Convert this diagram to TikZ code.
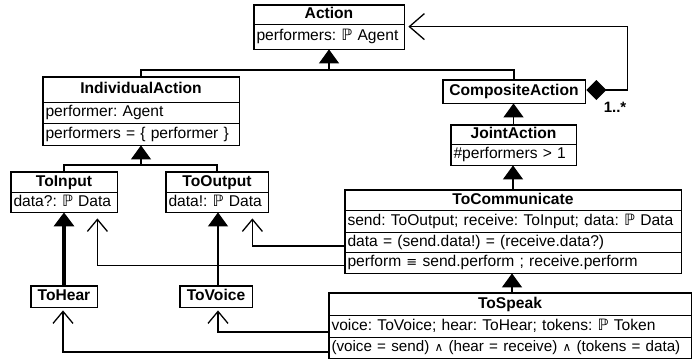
\documentclass[tikz,border=0pt]{standalone}
\usepackage{fontspec}
\setmainfont{Liberation Sans}
\newfontfamily\symf{DejaVu Sans}
\usetikzlibrary{arrows.meta,calc}
\newcommand{\PP}{{\symf ℙ}}
\newcommand{\myand}{{\symf\fontsize{12}{14}\selectfont ∧}}
\newcommand{\myequiv}{{\symf\fontsize{13}{14}\selectfont ≡}}
\frenchspacing
\begin{document}
\begin{tikzpicture}[x=1pt,y=-1pt,
  every node/.style={font=\fontsize{15.6}{19}\selectfont\frenchspacing},
  comp/.style={draw, line width=0.8pt, inner xsep=2.5pt, inner ysep=0pt, text height=12pt, text depth=3.5pt},
  hdr/.style={comp, font=\fontsize{15.6}{19}\selectfont\bfseries, align=center},
  row/.style={comp, align=left},
  border/.style={line width=1.6pt},
  line/.style={line width=1.3pt},
  gen/.style={line, -{Triangle[length=14pt,width=20pt]}},
  dep/.style={line, -{Straight Barb[length=12pt,width=20pt]}},
  thickgen/.style={line width=3.5pt, -{Triangle[length=14pt,width=20pt]}}
]
\useasboundingbox (0,0) rectangle (692,360);

% Action
\node[hdr, minimum width=150, minimum height=19] (actH) at (329,14.5) {Action};
\node[row, text width=145, minimum height=25] (actR) at (329,36.5) {\mbox{performers: \PP\ Agent}};
\draw[border] (actH.north west) rectangle (actR.south east);

% IndividualAction
\node[hdr, minimum width=196, minimum height=25] (iaH) at (141,89.5) {IndividualAction};
\node[row, text width=191, minimum height=21] (iaR1) at (141,112.5) {\mbox{performer: Agent}};
\node[row, text width=191, minimum height=22] (iaR2) at (141,134) {\mbox{performers = \{ performer \}}};
\draw[border] (iaH.north west) rectangle (iaR2.south east);

% CompositeAction
\node[hdr, minimum width=142, minimum height=23] (compH) at (514,91.5) {CompositeAction};
\draw[border] (compH.north west) rectangle (compH.south east);

% JointAction
\node[hdr, minimum width=125, minimum height=19] (jointH) at (513.5,134.5) {JointAction};
\node[row, text width=120, minimum height=21] (jointR) at (513.5,154.5) {\mbox{\#performers > 1}};
\draw[border] (jointH.north west) rectangle (jointR.south east);

% ToCommunicate
\node[hdr, minimum width=336, minimum height=20] (tocH) at (513,200) {ToCommunicate};
\node[row, text width=331, minimum height=22] (tocR1) at (513,221) {\mbox{send: ToOutput; receive: ToInput; data: \PP\ Data}};
\node[row, text width=331, minimum height=20] (tocR2) at (513,242) {\mbox{data = (send.data!) = (receive.data?)}};
\node[row, text width=331, minimum height=21] (tocR3) at (513,262.5) {\mbox{perform \myequiv\ send.perform ; receive.perform}};
\draw[border] (tocH.north west) rectangle (tocR3.south east);

% ToInput
\node[hdr, minimum width=106, minimum height=20] (tinH) at (64,182) {ToInput};
\node[row, text width=101, minimum height=20] (tinR) at (64,202) {\mbox{data?: \PP\ Data}};
\draw[border] (tinH.north west) rectangle (tinR.south east);

% ToOutput
\node[hdr, minimum width=102, minimum height=20] (toutH) at (217,182) {ToOutput};
\node[row, text width=97, minimum height=20] (toutR) at (217,202) {\mbox{data!: \PP\ Data}};
\draw[border] (toutH.north west) rectangle (toutR.south east);

% ToHear
\node[hdr, minimum width=66, minimum height=21] (thH) at (64,296.5) {ToHear};
\draw[border] (thH.north west) rectangle (thH.south east);

% ToVoice
\node[hdr, minimum width=72, minimum height=21] (tvH) at (216,296.5) {ToVoice};
\draw[border] (tvH.north west) rectangle (tvH.south east);

% ToSpeak
\node[hdr, minimum width=362, minimum height=22] (tsH) at (510,304) {ToSpeak};
\node[row, text width=357, minimum height=22] (tsR1) at (510,326) {\mbox{voice: ToVoice; hear: ToHear; tokens: \PP\ Token}};
\node[row, text width=357, minimum height=21] (tsR2) at (510,347.5) {\mbox{\fontsize{15.2}{19}\selectfont(voice = send) \myand\ (hear = receive) \myand\ (tokens = data)}};
\draw[border] (tsH.north west) rectangle (tsR2.south east);

% generalisations
\coordinate (jA) at (329,70);
\draw[line] (iaH.north) |- (jA);
\draw[line] (compH.north) |- (jA);
\draw[gen] (jA) -- (actR.south);

\coordinate (jB) at (141,165);
\draw[line] (tinH.north) |- (jB);
\draw[line] (toutH.north) |- (jB);
\draw[gen] (jB) -- (iaR2.south);

\draw[gen] (jointH.north) -- (jointH.north |- compH.south);
\draw[gen] (tocH.north) -- (tocH.north |- jointR.south);
\draw[gen] ($(tsH.north)+(2,0)$) -- ($(tsH.north |- tocR3.south)+(2,0)$);
\draw[thickgen] (thH.north) -- (thH.north |- tinR.south);
\draw[gen] ($(tvH.north)+(2,0)$) -- ($(tvH.north |- toutR.south)+(2,0)$);

% dependencies
\draw[dep] ($(tocR2.west)+(0,4)$) -| ($(toutR.south east)+(-16,6)$);
\draw[dep] ($(tocR3.west)+(0,3)$) -| ($(tinR.south east)+(-20,6)$);
\draw[dep] ($(tsR1.west)+(0,6)$) -| ($(tvH.south)+(2,3)$);
\draw[dep] ($(tsR2.west)+(0,4.5)$) -| ($(thH.south)+(-1,3)$);

% aggregation
\draw[line, {Diamond[length=20pt,width=20pt]}-{Straight Barb[length=15pt,width=26pt]}]
  ($(compH.east)+(1,-1.5)$) -- ++(41,0) |- ($(actR.north east)+(4,3)$);
\node[font=\fontsize{15}{18}\selectfont\bfseries] (mult) at (615,107) {1..*};
\end{tikzpicture}
\end{document}
